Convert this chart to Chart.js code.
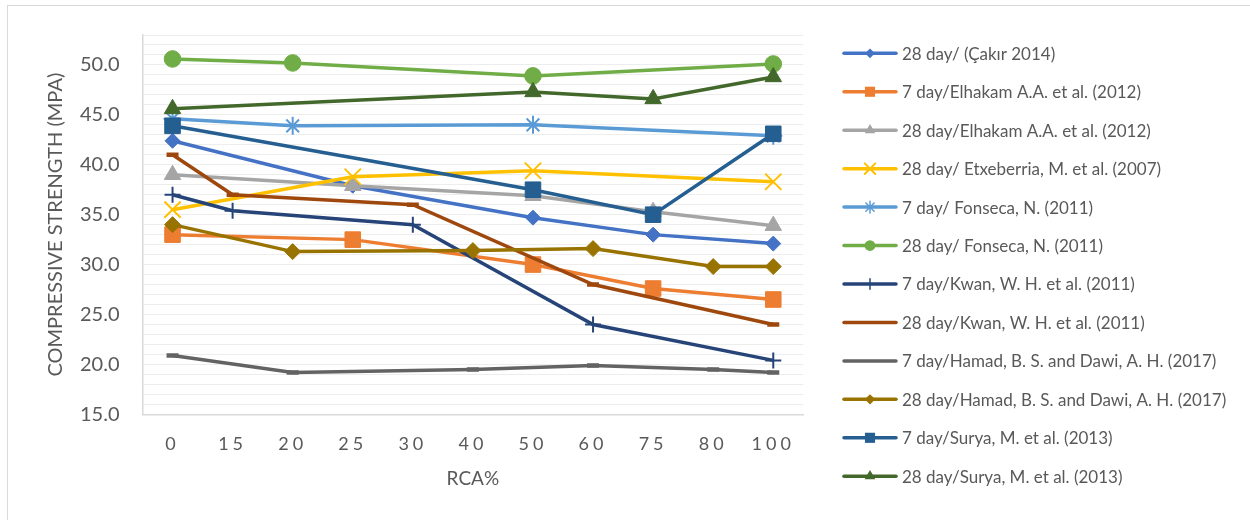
<!DOCTYPE html>
<html>
<head>
<meta charset="utf-8">
<script src="https://cdn.jsdelivr.net/npm/chart.js@4/dist/chart.umd.min.js"></script>
<style>
  html, body { margin: 0; padding: 0; background: #fff; }
  #wrap { position: relative; width: 1250px; height: 520px; overflow: hidden; }
  #frame { position: absolute; left: 7px; top: 5px; width: 1300px; height: 600px;
           border-left: 1.5px solid #D9D9D9; border-top: 1.5px solid #D9D9D9; }
  canvas { position: absolute; left: 0; top: 0; }
</style>
</head>
<body>
<div id="wrap">
  <div id="frame"></div>
  <canvas id="c" width="1250" height="520"></canvas>
</div>
<script>
// ---- data ----
const categories = ['0', '15', '20', '25', '30', '40', '50', '60', '75', '80', '100'];
const yTickLabels = ['15.0', '20.0', '25.0', '30.0', '35.0', '40.0', '45.0', '50.0'];
const xTitle = 'RCA%';
const yTitle = 'COMPRESSIVE STRENGTH (MPA)';

const seriesNames = [
  '28 day/ (Çakır 2014)',
  '7 day/Elhakam A.A. et al. (2012)',
  '28 day/Elhakam A.A. et al. (2012)',
  '28 day/ Etxeberria, M. et al. (2007)',
  '7 day/ Fonseca, N. (2011)',
  '28 day/ Fonseca, N. (2011)',
  '7 day/Kwan, W. H. et al. (2011)',
  '28 day/Kwan, W. H. et al. (2011)',
  '7 day/Hamad, B. S. and Dawi, A. H. (2017)',
  '28 day/Hamad, B. S. and Dawi, A. H. (2017)',
  '7 day/Surya, M. et al. (2013)',
  '28 day/Surya, M. et al. (2013)'
];
//                     0     15    20    25    30    40    50    60    75    80    100
const cakir28     = [42.4, null, null, 37.9, null, null, 34.7, null, 33.0, null, 32.1];
const elhakam7    = [33.0, null, null, 32.5, null, null, 30.0, null, 27.6, null, 26.5];
const elhakam28   = [39.0, null, null, 37.9, null, null, 36.9, null, 35.3, null, 33.9];
const etxeberria28= [35.5, null, null, 38.8, null, null, 39.4, null, null, null, 38.3];
const fonseca7    = [44.6, null, 43.9, null, null, null, 44.0, null, null, null, 42.9];
const fonseca28   = [50.6, null, 50.2, null, null, null, 48.9, null, null, null, 50.1];
const kwan7       = [37.0, 35.4, null, null, 34.0, null, null, 24.0, null, null, 20.4];
const kwan28      = [41.0, 37.0, null, null, 36.0, null, null, 28.0, null, null, 24.0];
const hamad7      = [20.9, null, 19.2, null, null, 19.5, null, 19.9, null, 19.5, 19.2];
const hamad28     = [34.0, null, 31.3, null, null, 31.4, null, 31.6, null, 29.8, 29.8];
const surya7      = [43.9, null, null, null, null, null, 37.5, null, 35.0, null, 43.1];
const surya28     = [45.6, null, null, null, null, null, 47.3, null, 46.6, null, 48.8];

const seriesValues = [cakir28, elhakam7, elhakam28, etxeberria28, fonseca7, fonseca28,
                      kwan7, kwan28, hamad7, hamad28, surya7, surya28];

// ---- styles ----
const colors  = ['#4472C4', '#ED7D31', '#A5A5A5', '#FFC000', '#5B9BD5', '#70AD47',
                 '#264478', '#9E480E', '#636363', '#997300', '#255E91', '#43682B'];
const markers = ['rectRot', 'rect', 'triangle', 'crossRot', 'star', 'circle',
                 'cross', 'line', 'line', 'rectRot', 'rect', 'triangle'];
const radii   = [7.5, 11, 9.5, 11.5, 9, 8.3, 8, 6, 6, 8, 11, 9.5];
const legendMarker = [true, true, true, true, true, true, true, false, false, true, true, true];
const FONT = 'Lato, "Open Sans", sans-serif';
const TXT = '#595959';

const N = seriesNames.length;
const datasets = seriesNames.map((name, i) => ({
  label: name,
  data: seriesValues[i],
  borderColor: colors[i],
  backgroundColor: colors[i],
  borderWidth: 3.5,
  pointStyle: markers[i],
  pointRadius: radii[i],
  pointHoverRadius: radii[i],
  pointBackgroundColor: colors[i],
  pointBorderColor: colors[i],
  pointBorderWidth: (markers[i] === 'cross' || markers[i] === 'crossRot' || markers[i] === 'star') ? 2 : (markers[i] === 'line' ? 4.5 : 1),
  spanGaps: true,
  tension: 0,
  order: N - i
}));

function drawLegendMarker(ctx, style, x, y, r, color) {
  ctx.save();
  ctx.fillStyle = color; ctx.strokeStyle = color;
  ctx.beginPath();
  if (style === 'rectRot') {
    ctx.moveTo(x - r, y); ctx.lineTo(x, y - r); ctx.lineTo(x + r, y); ctx.lineTo(x, y + r); ctx.closePath(); ctx.fill();
  } else if (style === 'rect') {
    const s = r * Math.SQRT1_2; ctx.rect(x - s, y - s, 2 * s, 2 * s); ctx.fill();
  } else if (style === 'triangle') {
    ctx.moveTo(x, y - r); ctx.lineTo(x + r * 0.866, y + r * 0.5); ctx.lineTo(x - r * 0.866, y + r * 0.5); ctx.closePath(); ctx.fill();
  } else if (style === 'circle') {
    ctx.arc(x, y, r, 0, Math.PI * 2); ctx.fill();
  } else if (style === 'crossRot') {
    const d = r * Math.SQRT1_2; ctx.lineWidth = 2;
    ctx.moveTo(x - d, y - d); ctx.lineTo(x + d, y + d); ctx.moveTo(x + d, y - d); ctx.lineTo(x - d, y + d); ctx.stroke();
  } else if (style === 'star') {
    const d = r * Math.SQRT1_2; ctx.lineWidth = 1.5;
    ctx.moveTo(x, y - r); ctx.lineTo(x, y + r);
    ctx.moveTo(x - d, y - d); ctx.lineTo(x + d, y + d); ctx.moveTo(x + d, y - d); ctx.lineTo(x - d, y + d); ctx.stroke();
  } else if (style === 'cross') {
    ctx.lineWidth = 1.5; ctx.moveTo(x, y - r); ctx.lineTo(x, y + r); ctx.stroke();
  }
  ctx.restore();
}

const legendPlugin = {
  id: 'excelLegend',
  afterUpdate(chart) {
    const xs = chart.scales.x;
    if (xs && !xs._spaced) {
      const orig = xs.drawLabels;
      xs.drawLabels = function (area) {
        const c = this.ctx; c.save(); c.letterSpacing = '4px'; orig.call(this, area); c.restore();
      };
      xs._spaced = true;
    }
  },
  afterDraw(chart) {
    const ctx = chart.ctx;
    ctx.save();
    chart.data.datasets.forEach((ds, i) => {
      const y = 53.3 + 38.45 * i;
      ctx.beginPath();
      ctx.strokeStyle = colors[i]; ctx.lineWidth = 3.5; ctx.lineCap = 'round';
      ctx.moveTo(844, y); ctx.lineTo(896, y); ctx.stroke();
      if (legendMarker[i]) drawLegendMarker(ctx, markers[i], 870, y, radii[i] * 0.65, colors[i]);
      ctx.fillStyle = TXT;
      ctx.font = '17px ' + FONT;
      ctx.textBaseline = 'middle'; ctx.textAlign = 'left';
      ctx.fillText(ds.label, 902, y + 1);
    });
    ctx.restore();
  }
};

new Chart(document.getElementById('c'), {
  type: 'line',
  data: { labels: categories, datasets },
  plugins: [legendPlugin],
  options: {
    responsive: false,
    animation: false,
    events: [],
    layout: { padding: { top: 34.3, right: 446.7, bottom: 0, left: 0 } },
    plugins: { legend: { display: false }, tooltip: { enabled: false } },
    scales: {
      x: {
        type: 'category',
        offset: true,
        grid: { display: false },
        border: { display: true, color: '#D9D9D9', width: 1.5 },
        ticks: { color: TXT, font: { family: FONT, size: 18 }, padding: 11, maxRotation: 0, autoSkip: false },
        title: { display: true, text: xTitle, color: TXT, font: { family: FONT, size: 19 }, padding: { top: 0, bottom: 30 } },
        afterFit(s) { s.height = 520 - 414.3; }
      },
      y: {
        min: 15, max: 53,
        grid: { color: '#EDEDED', lineWidth: 1, drawTicks: false },
        border: { display: true, color: '#D9D9D9', width: 1.5 },
        ticks: {
          stepSize: 1, autoSkip: false, color: TXT, padding: 23, font: { family: FONT, size: 20 },
          callback: (v) => { const s = Number(v).toFixed(1); return yTickLabels.includes(s) ? s : ''; }
        },
        title: { display: true, text: yTitle, color: TXT, font: { family: FONT, size: 20 }, padding: { top: 44 } },
        afterFit(s) { s.width = 142.5; }
      }
    }
  }
});
</script>
</body>
</html>
